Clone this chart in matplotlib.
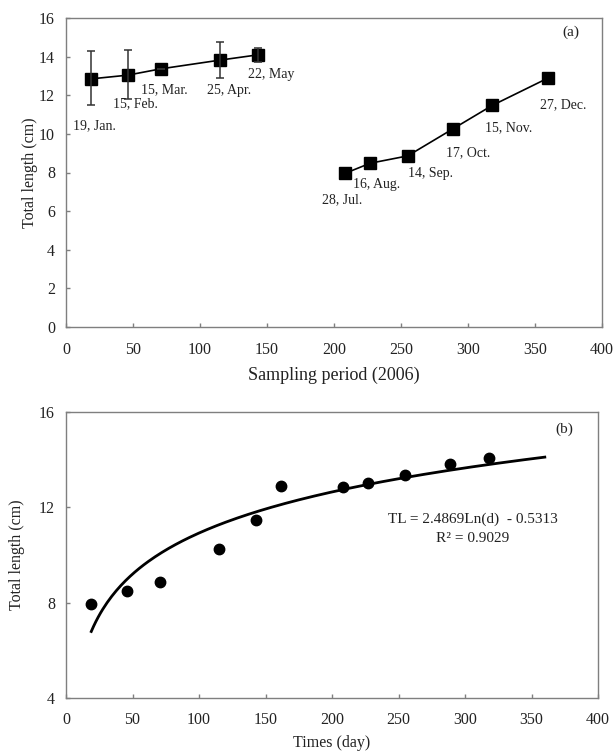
import numpy as np
import matplotlib
matplotlib.use("Agg")
import matplotlib.pyplot as plt

# ==========================================
# datos
# ==========================================

# (a) muestreos 2006
dias_a = [19, 46, 71, 115, 143, 208, 227, 255, 289, 318, 360]
tl_a = [12.85, 13.04, 13.37, 13.82, 14.09, 7.95, 8.48, 8.86, 10.27, 11.47, 12.9]
err_sup = [14.27, 14.35, 13.37, 14.78, 14.44]
err_inf = [11.48, 11.80, 13.37, 12.90, 13.72]
fechas = ["19, Jan.", "15, Feb.", "15, Mar.", "25, Apr.", "22, May",
          "28, Jul.", "16, Aug.", "14, Sep.", "17, Oct.", "15, Nov.", "27, Dec."]
pos_fechas_x = [21, 52, 73, 122, 153, 206, 232, 272, 300, 330, 371]
pos_fechas_y = [10.4, 11.55, 12.3, 12.25, 13.05, 6.6, 7.4, 7.96, 9.05, 10.3, 11.5]

# (b) dias desde julio
dias_b = [19, 46, 71, 115, 143, 162, 208, 227, 255, 289, 318]
tl_b = [7.95, 8.48, 8.86, 10.27, 11.47, 12.9, 12.85, 13.04, 13.37, 13.82, 14.09]
coef_a, coef_b = 2.4869, -0.5313

plt.rcParams["font.family"] = ["Liberation Serif", "DejaVu Serif"]
texto = "#222222"
borde = "#7f7f7f"

fig = plt.figure(figsize=(6.16, 7.53), dpi=100)
W, H = 616, 753

ax1 = fig.add_axes([66 / W, 1 - 327 / H, (602 - 66) / W, (327 - 18) / H])
ax2 = fig.add_axes([66 / W, 1 - 698 / H, (598 - 66) / W, (698 - 412) / H])

# ------------------------------------------
# panel (a)
# ------------------------------------------
n1 = 5
ax1.plot(dias_a[:n1], tl_a[:n1], "-s", color="black", lw=1.2, ms=8)
ax1.plot(dias_a[n1:], tl_a[n1:], "-s", color="black", lw=1.2, ms=8)
yerr = [np.array(tl_a[:n1]) - np.array(err_inf), np.array(err_sup) - np.array(tl_a[:n1])]
ax1.errorbar(dias_a[:n1], tl_a[:n1], yerr=yerr, fmt="none", ecolor="#333333",
             elinewidth=1.1, capsize=3, capthick=1.1)

for f, x, y in zip(fechas, pos_fechas_x, pos_fechas_y):
    ax1.text(x, y, f, ha="center", va="center", fontsize=10, color=texto)
ax1.text(377, 15.28, "(a)", ha="center", va="center", fontsize=11, color=texto)

ax1.set_xlim(0, 400)
ax1.set_ylim(0, 16)
ax1.set_xticks(np.arange(0, 401, 50))
ax1.set_yticks(np.arange(0, 17, 2))
ax1.set_xlabel("Sampling period (2006)", fontsize=13, color=texto, labelpad=6)
ax1.set_ylabel("Total length (cm)", fontsize=11.5, color=texto, labelpad=1)

# ------------------------------------------
# panel (b)
# ------------------------------------------
d = np.linspace(19, 360, 200)
ax2.plot(d, coef_a * np.log(d) + coef_b, color="black", lw=2)
ax2.plot(dias_b, tl_b, "o", color="black", ms=7.5)
ax2.text(306, 11.48, "TL = 2.4869Ln(d)  - 0.5313", ha="center", va="center",
         fontsize=11, color=texto)
ax2.text(306, 10.71, "R² = 0.9029", ha="center", va="center", fontsize=11, color=texto)
ax2.text(375, 15.29, "(b)", ha="center", va="center", fontsize=11, color=texto)

ax2.set_xlim(0, 400)
ax2.set_ylim(4, 16)
ax2.set_xticks(np.arange(0, 401, 50))
ax2.set_yticks([4, 8, 12, 16])
ax2.set_xlabel("Times (day)", fontsize=11.5, color=texto, labelpad=5)
ax2.set_ylabel("Total length (cm)", fontsize=11.5, color=texto, labelpad=10)

for ax in (ax1, ax2):
    for s in ax.spines.values():
        s.set_color(borde)
        s.set_linewidth(1)
    ax.tick_params(direction="in", length=3, width=1, color=borde,
                   labelsize=11.5, labelcolor=texto, pad=8)
ax1.tick_params(axis="x", pad=11)
ax2.tick_params(axis="x", pad=10)

fig.savefig("out.png", dpi=100)
